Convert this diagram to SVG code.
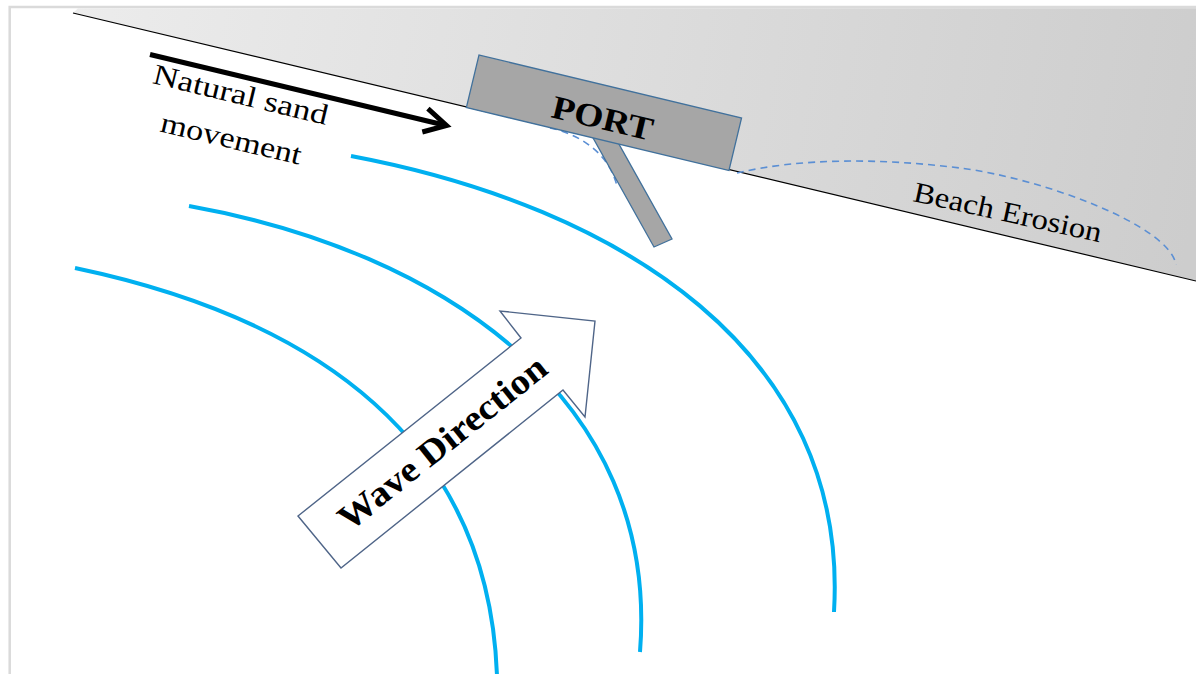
<svg xmlns="http://www.w3.org/2000/svg" width="1196" height="674" viewBox="0 0 1196 674">
  <defs>
    <linearGradient id="landGrad" gradientUnits="userSpaceOnUse" x1="73" y1="8" x2="1196" y2="200">
      <stop offset="0" stop-color="#ececec"/>
      <stop offset="1" stop-color="#cdcdcd"/>
    </linearGradient>
    <style>
      .wave { fill: none; stroke: #00b0f0; stroke-width: 4; stroke-linecap: butt; }
      .erosion { fill: none; stroke: #5b8fd4; stroke-width: 1.6; stroke-dasharray: 7 5; }
      .struct { fill: #a6a6a6; stroke: #41719c; stroke-width: 1.3; }
      .label { font-family: "Liberation Serif", "DejaVu Serif", serif; fill: #000; }
      .bold { font-weight: bold; }
    </style>
  </defs>

  <!-- background and frame -->
  <rect x="0" y="0" width="1196" height="674" fill="#ffffff"/>
  <rect x="9.7" y="7" width="1200" height="700" fill="#ffffff" stroke="#dadada" stroke-width="2.5"/>

  <!-- land -->
  <g id="land">
    <polygon points="78,8.3 1196,8.3 1196,281 73,13" fill="url(#landGrad)"/>
    <line x1="73" y1="13" x2="1196" y2="281" stroke="#000" stroke-width="1.2"/>
  </g>

  <!-- erosion dashed outlines -->
  <g id="erosion">
    <path class="erosion" d="M550,128 C575,133 608,150 617,186"/>
    <path class="erosion" d="M737,173 C800,158 880,158 960,168 C1040,178 1170,225 1176,265"/>
  </g>

  <!-- port and jetty -->
  <g id="jetty">
    <polygon class="struct" points="654,247 672,239 608.6,125.6 590.6,133.6"/>
  </g>
  <g id="port">
    <rect class="struct" x="0" y="0" width="270" height="54" transform="translate(479,55) rotate(13.5)"/>
    <text class="label bold" font-size="33" textLength="103" lengthAdjust="spacingAndGlyphs" transform="translate(550,117) rotate(13.4)">PORT</text>
  </g>

  <!-- labels -->
  <g id="beach-erosion">
    <text class="label" font-size="29" textLength="192" lengthAdjust="spacingAndGlyphs" transform="translate(912,201) rotate(12.4)">Beach Erosion</text>
  </g>
  <g id="sand-label">
    <g transform="translate(151,83) rotate(13.5)">
      <text class="label" font-size="29" x="90" y="0" text-anchor="middle" textLength="179" lengthAdjust="spacingAndGlyphs">Natural sand</text>
      <text class="label" font-size="29" x="91" y="45" text-anchor="middle" textLength="144" lengthAdjust="spacingAndGlyphs">movement</text>
    </g>
  </g>

  <!-- waves -->
  <g id="waves">
    <path class="wave" d="M351,156 C621,207 849.6,352 834,612"/>
    <path class="wave" d="M189,206 C441,251 660,398 640,652"/>
    <path class="wave" d="M75,268 C318,319 489,442 497,676"/>
  </g>

  <!-- wave direction arrow -->
  <g id="wave-direction">
    <polygon points="298,516 521,338 500,311 595,321 585,417 563,390 341,568" fill="#ffffff" stroke="#4f6588" stroke-width="1.4" stroke-linejoin="miter"/>
    <g transform="translate(319.5,542) rotate(-38.6)">
      <text class="label bold" font-size="36" x="158" y="11" text-anchor="middle" textLength="256" lengthAdjust="spacingAndGlyphs">Wave Direction</text>
    </g>
  </g>

  <!-- connectors -->
  <g id="connectors">
    <line x1="150" y1="54.5" x2="444" y2="125" stroke="#000" stroke-width="5"/>
    <path d="M-22,-12 L0,0 L-22,12" fill="none" stroke="#000" stroke-width="5" stroke-linejoin="miter" transform="translate(446.5,125.5) rotate(13.5)"/>
  </g>
</svg>
